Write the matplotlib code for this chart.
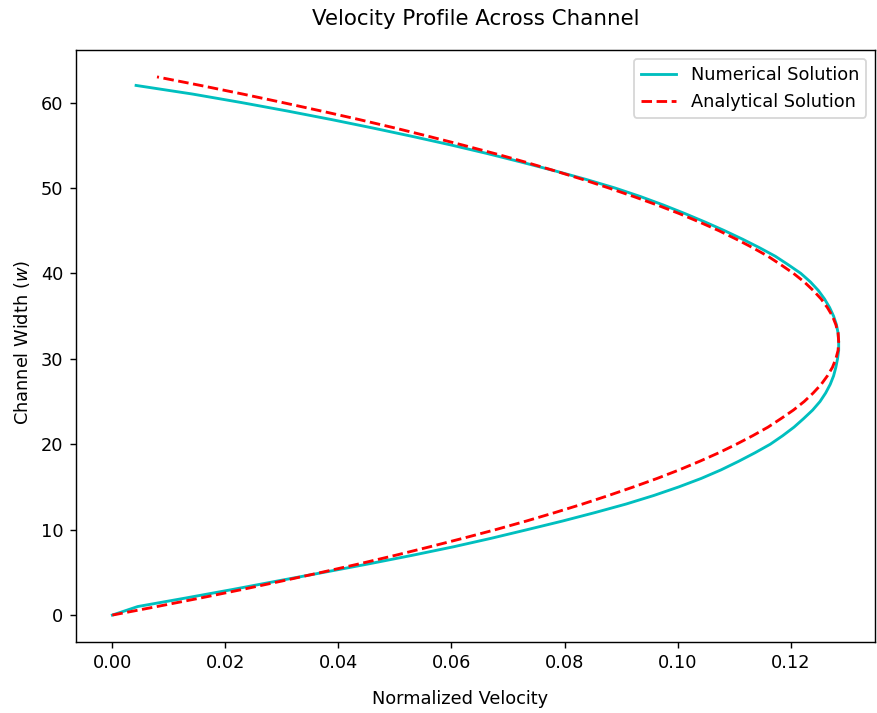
import matplotlib.pyplot as plt

# channel positions (lattice nodes across the width)
y_num = list(range(0, 63))
y_ana = list(range(0, 64))

# numerical velocity profile
u_num = [0.0000, 0.0045, 0.0130, 0.0213, 0.0293, 0.0374, 0.0454, 0.0531,
         0.0604, 0.0671, 0.0734, 0.0796, 0.0854, 0.0909, 0.0958, 0.1002,
         0.1042, 0.1077, 0.1108, 0.1137, 0.1164, 0.1186, 0.1206, 0.1223,
         0.1239, 0.1252, 0.1262, 0.1270, 0.1276, 0.1280, 0.1283, 0.1285,
         0.1285, 0.1284, 0.1281, 0.1276, 0.1269, 0.1260, 0.1249, 0.1235,
         0.1218, 0.1196, 0.1173, 0.1145, 0.1115, 0.1083, 0.1049, 0.1013,
         0.0975, 0.0934, 0.0889, 0.0838, 0.0783, 0.0725, 0.0665, 0.0601,
         0.0533, 0.0462, 0.0388, 0.0310, 0.0228, 0.0141, 0.0042]

# analytical (Poiseuille) profile
u_ana = [0.0000, 0.0079, 0.0156, 0.0230, 0.0301, 0.0370, 0.0437, 0.0501,
         0.0562, 0.0621, 0.0678, 0.0732, 0.0783, 0.0832, 0.0878, 0.0922,
         0.0964, 0.1003, 0.1039, 0.1073, 0.1104, 0.1133, 0.1160, 0.1183,
         0.1205, 0.1224, 0.1240, 0.1254, 0.1265, 0.1274, 0.1280, 0.1284,
         0.1285, 0.1284, 0.1280, 0.1274, 0.1265, 0.1254, 0.1240, 0.1224,
         0.1205, 0.1183, 0.1160, 0.1133, 0.1104, 0.1073, 0.1039, 0.1003,
         0.0964, 0.0922, 0.0878, 0.0832, 0.0783, 0.0732, 0.0678, 0.0621,
         0.0562, 0.0501, 0.0437, 0.0370, 0.0301, 0.0230, 0.0156, 0.0079]

dpi = 128
fig = plt.figure(figsize=(877 / dpi, 713 / dpi), dpi=dpi)
ax = fig.add_axes([0.0867, 0.0996, 0.9110, 0.8303])

ax.plot(u_num, y_num, 'c-', linewidth=1.6, label="Numerical Solution")
ax.plot(u_ana, y_ana, 'r--', linewidth=1.6, label="Analytical Solution")

ax.set_xlabel("Normalized Velocity", labelpad=10, x=0.481)
ax.set_ylabel(r"Channel Width $(w)$", labelpad=5, y=0.506)
ax.set_title("Velocity Profile Across Channel", fontsize=12, pad=14)
ax.legend(loc="upper right")

fig.savefig("out.png", dpi=dpi)
